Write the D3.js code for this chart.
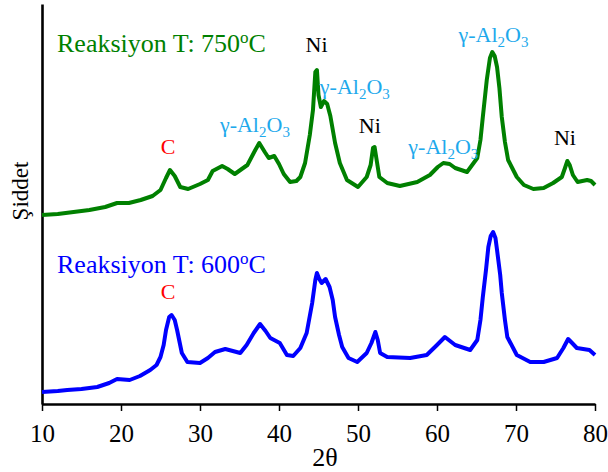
<!DOCTYPE html>
<html>
<head>
<meta charset="utf-8">
<script src="https://cdn.jsdelivr.net/npm/d3@7"></script>
<style>
  body { margin: 0; background: #fff; }
  svg text { font-family: "Liberation Serif", "Times New Roman", Times, "DejaVu Serif", serif !important; }
</style>
</head>
<body>
<svg id="chart" width="608" height="472"></svg>
<script>
// 2theta / intensity (a.u.)
var theta750 = [10, 12, 14, 16, 18, 19.5, 21, 22.5, 24, 25, 25.7, 26.2, 26.8, 27.5, 28.5, 30, 31, 31.6, 32.8, 33.5, 34.4, 36, 37, 37.5, 38.2, 38.7, 39.4, 40, 40.6, 41.4, 42.2, 42.7, 43.3, 43.9, 44.3, 44.6, 44.8, 45, 45.3, 45.7, 46.1, 46.5, 47.1, 47.7, 48.6, 50, 51.1, 51.6, 51.9, 52.1, 52.4, 52.7, 53.7, 55.3, 57.5, 59.1, 60.1, 60.8, 61.6, 62.3, 63.8, 65.1, 65.5, 65.8, 66.3, 66.7, 67, 67.3, 67.6, 67.9, 68.2, 68.6, 69, 70.1, 71, 72.2, 73.5, 74.7, 75.8, 76.2, 76.5, 76.8, 77.2, 77.8, 79, 79.5, 80];
var int750 = [189, 190, 192, 194, 197, 201, 201, 204, 208, 214, 226, 234, 228, 217, 215, 220, 224, 233, 238, 235, 230, 239, 254, 261, 252, 246, 248, 240, 230, 222, 223, 227, 241, 269, 294, 332, 334, 309, 297, 303, 300, 288, 261, 241, 224, 217, 227, 239, 256, 257, 242, 227, 221, 218, 222, 229, 237, 241, 240, 236, 232, 246, 264, 287, 324, 346, 352, 348, 337, 316, 287, 262, 244, 227, 219, 215, 216, 221, 227, 236, 243, 239, 229, 222, 224, 223, 219];

var theta600 = [10, 12, 13.2, 15, 17, 18.5, 19.5, 21.1, 22.4, 23.7, 24.5, 25, 25.4, 25.7, 26.1, 26.4, 26.8, 27.1, 27.7, 28.4, 30, 31, 31.9, 33.2, 35.1, 35.9, 36.8, 37.6, 38.3, 38.9, 40.1, 41, 41.8, 42.7, 43.5, 44.2, 44.6, 44.8, 45.1, 45.4, 45.9, 46.4, 46.8, 47.1, 47.6, 48, 48.8, 49.9, 51.1, 51.7, 52.2, 52.5, 52.8, 53.7, 56.6, 58.7, 60, 61, 62.3, 64.2, 65.1, 65.5, 65.8, 66.2, 66.5, 66.8, 67.1, 67.4, 67.6, 68, 68.2, 68.6, 68.9, 70.1, 71.8, 73.5, 75.2, 76, 76.6, 77.1, 77.7, 78.5, 79.3, 80];
var int600 = [12, 13, 14, 15, 17, 21, 25, 24, 28, 34, 39, 47, 59, 74, 87, 89, 84, 74, 51, 42, 41, 46, 52, 55, 51, 59, 71, 80, 73, 66, 61, 49, 48, 56, 71, 101, 124, 131, 125, 121, 125, 117, 104, 87, 69, 57, 46, 42, 51, 61, 72, 64, 51, 47, 46, 49, 59, 67, 59, 54, 64, 84, 107, 134, 157, 168, 172, 166, 154, 129, 111, 84, 67, 49, 42, 42, 46, 56, 65, 61, 56, 55, 54, 49];

var xTicks = [10, 20, 30, 40, 50, 60, 70, 80];

// phase labels: [2theta, intensity, label, phase]
var peakLabels = [
  [25.95, 250, "C", "C"],
  [36.95, 272, "γ-Al|2|O|3", "Al"],
  [44.75, 352, "Ni", "Ni"],
  [49.6, 310, "γ-Al|2|O|3", "Al"],
  [51.5, 271, "Ni", "Ni"],
  [60.8, 250, "γ-Al|2|O|3", "Al"],
  [67.15, 362, "γ-Al|2|O|3", "Al"],
  [76.2, 259, "Ni", "Ni"],
  [25.95, 105, "C", "C"]
];
var phaseColors = {C: "#ff0000", Al: "#1ea9ec", Ni: "#000000"};

var serif = "'Liberation Serif', 'Times New Roman', serif";

var svg = d3.select("#chart");

var x = d3.scaleLinear().domain([10, 80]).range([42, 595]);
var y = d3.scaleLinear().domain([0, 400]).range([404, 4]);

// axes
var xAxis = svg.append("g")
    .attr("transform", "translate(0," + y(0) + ")")
    .call(d3.axisBottom(x).tickValues(xTicks).tickSize(7).tickSizeOuter(0).tickPadding(20));
xAxis.attr("font-family", serif);
xAxis.select(".domain").attr("stroke", "#000").attr("stroke-width", 2.6);
xAxis.selectAll(".tick line").attr("stroke", "#000").attr("stroke-width", 1.5);
xAxis.selectAll(".tick text")
    .attr("font-family", serif)
    .attr("font-size", 25)
    .attr("fill", "#000")
    .attr("dy", "0.42em");

var yAxis = svg.append("g")
    .attr("transform", "translate(" + x(10) + ",0)")
    .call(d3.axisLeft(y).ticks(0).tickSize(0).tickSizeOuter(0));
yAxis.select(".domain").attr("stroke", "#000").attr("stroke-width", 2.6);

svg.append("text")
    .attr("x", 325).attr("y", 466)
    .attr("text-anchor", "middle")
    .attr("font-family", serif)
    .attr("font-size", 26)
    .text("2θ");

svg.append("text")
    .attr("transform", "translate(28,191) rotate(-90)")
    .attr("text-anchor", "middle")
    .attr("font-family", serif)
    .attr("font-size", 23)
    .text("Şiddet");

// curves
var line = d3.line()
    .x(function(d){ return x(d[0]); })
    .y(function(d){ return y(d[1]); });

svg.append("path")
    .datum(d3.zip(theta750, int750))
    .attr("fill", "none")
    .attr("stroke", "#008000")
    .attr("stroke-width", 4)
    .attr("stroke-linejoin", "round")
    .attr("d", line);

svg.append("path")
    .datum(d3.zip(theta600, int600))
    .attr("fill", "none")
    .attr("stroke", "#0000ff")
    .attr("stroke-width", 4)
    .attr("stroke-linejoin", "round")
    .attr("d", line);

// series titles
function addTitle(ty, temp, color){
  var t = svg.append("text")
      .attr("x", 57).attr("y", ty)
      .attr("font-family", serif)
      .attr("font-size", 26)
      .attr("fill", color);
  t.append("tspan").text("Reaksiyon T: " + temp);
  t.append("tspan").attr("font-size", 17).attr("dy", -9).text("o");
  t.append("tspan").attr("dy", 9).text("C");
}
addTitle(52, "750", "#008000");
addTitle(273, "600", "#0000ff");

// peak labels, "|" splits normal / subscript parts
peakLabels.forEach(function(p){
  var t = svg.append("text")
      .attr("x", x(p[0])).attr("y", y(p[1]))
      .attr("text-anchor", "middle")
      .attr("font-family", serif)
      .attr("font-size", 22)
      .attr("fill", phaseColors[p[3]]);
  var parts = p[2].split("|");
  var shift = 0;
  parts.forEach(function(s, i){
    var sub = i % 2 == 1;
    var dy = sub ? 5 - shift : -shift;
    t.append("tspan")
        .attr("font-size", sub ? 15 : 22)
        .attr("dy", dy)
        .text(s);
    shift = sub ? 5 : 0;
  });
});
</script>
</body>
</html>
